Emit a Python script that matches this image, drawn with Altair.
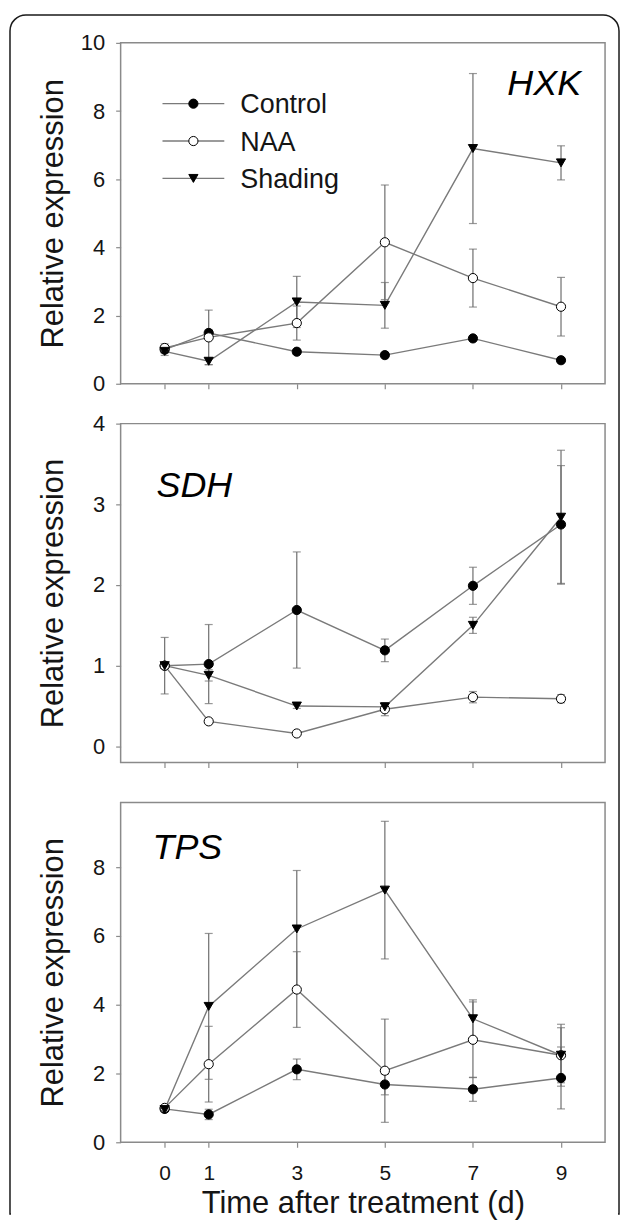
import altair as alt
import pandas as pd

# ---------------- data ----------------
days = [0, 1, 3, 5, 7, 9]
series_names = ["Control", "NAA", "Shading"]

hxk_control = [1.0, 1.49, 0.94, 0.84, 1.33, 0.69]
hxk_control_err = [0.10, 0.10, 0.08, 0.08, 0.08, 0.08]
hxk_naa = [1.05, 1.36, 1.78, 4.15, 3.10, 2.26]
hxk_naa_err = [0.12, 0.80, 0.50, 1.68, 0.85, 0.86]
hxk_shading = [0.95, 0.66, 2.40, 2.30, 6.90, 6.48]
hxk_shading_err = [0.12, 0.10, 0.75, 0.67, 2.20, 0.50]

sdh_control = [1.0, 1.02, 1.69, 1.19, 1.99, 2.75]
sdh_control_err = [0.35, 0.49, 0.72, 0.14, 0.23, 0.73]
sdh_naa = [1.0, 0.31, 0.16, 0.46, 0.61, 0.59]
sdh_naa_err = [0.03, 0.03, 0.03, 0.08, 0.07, 0.05]
sdh_shading = [1.0, 0.88, 0.50, 0.49, 1.50, 2.84]
sdh_shading_err = [0.03, 0.07, 0.03, 0.05, 0.10, 0.83]

tps_control = [0.97, 0.81, 2.12, 1.68, 1.54, 1.87]
tps_control_err = [0.08, 0.15, 0.30, 0.30, 0.35, 0.90]
tps_naa = [1.0, 2.27, 4.44, 2.08, 2.98, 2.53]
tps_naa_err = [0.05, 1.10, 1.10, 1.50, 1.10, 0.90]
tps_shading = [0.95, 3.95, 6.20, 7.33, 3.59, 2.53]
tps_shading_err = [0.05, 2.12, 1.70, 2.00, 0.55, 0.80]

hxk_ticks = [0, 2, 4, 6, 8, 10]
sdh_ticks = [0, 1, 2, 3, 4]
tps_ticks = [0, 2, 4, 6, 8]

# ---------------- style ----------------
FONT = "Liberation Sans"
GRAY_LINE = "#7a7a7a"
GRAY_ERR = "#6e6e6e"
FRAME = "#8a8a8a"
TXT = "#151515"

shape_scale = alt.Scale(domain=series_names, range=["circle", "circle", "triangle-down"])
fill_scale = alt.Scale(domain=series_names, range=["black", "white", "black"])
size_scale = alt.Scale(domain=series_names, range=[85, 85, 120])


def make_df(vals_list, errs_list):
    rows = []
    for s, vals, errs in zip(series_names, vals_list, errs_list):
        for d, v, e in zip(days, vals, errs):
            rows.append({"series": s, "day": d, "value": v, "lo": v - e, "hi": v + e})
    return pd.DataFrame(rows)


def panel(df, ydomain, yticks, height, gene, gx, gy, galign, last, legend=False, border=False):
    xkw = dict(values=days, tickSize=5, tickColor=FRAME, tickWidth=1.2, domain=False, grid=False)
    if last:
        xaxis = alt.Axis(labels=True, labelFont=FONT, labelFontSize=21, labelColor=TXT,
                         labelPadding=32, labelBaseline="alphabetic",
                         title="Time after treatment (d)", titleFont=FONT, titleFontSize=31,
                         titleFontWeight="normal", titleColor=TXT, titleY=70,
                         titleBaseline="alphabetic", **xkw)
    else:
        xaxis = alt.Axis(labels=False, title="", **xkw)
    xscale = alt.Scale(domain=[-1, 10], nice=False, zero=False)
    yaxis = alt.Axis(values=yticks, tickSize=5, tickColor=FRAME, tickWidth=1.2, domain=False,
                     grid=False, format="d", labelFont=FONT, labelFontSize=22, labelColor=TXT,
                     labelPadding=11, title="Relative expression", titleFont=FONT,
                     titleFontSize=31, titleFontWeight="normal", titleColor=TXT,
                     titleX=-58, titleY=height / 2, titleAngle=270, titleAlign="center",
                     titleBaseline="alphabetic")
    yscale = alt.Scale(domain=ydomain, nice=False, zero=False)

    base = alt.Chart(df)
    X = alt.X("day:Q", scale=xscale, axis=xaxis)

    layers = []
    if border:
        frame_df = pd.DataFrame({"a": [0]})
        layers.append(
            alt.Chart(frame_df).mark_rect(
                fillOpacity=0, stroke="#1a1a1a", strokeWidth=1.5,
                cornerRadiusTopLeft=16, cornerRadiusTopRight=16
            ).encode(x=alt.value(-111), x2=alt.value(500), y=alt.value(-28), y2=alt.value(1175))
        )
        layers.append(
            alt.Chart(frame_df).mark_rule(color="white", strokeWidth=3).encode(
                x=alt.value(-110), x2=alt.value(499), y=alt.value(1175))
        )
    rules = base.mark_rule(color=GRAY_ERR, strokeWidth=1.2).encode(
        x=X, y=alt.Y("lo:Q", scale=yscale, axis=yaxis), y2="hi:Q")
    cap_lo = base.mark_tick(orient="horizontal", size=8, thickness=1.2, color=GRAY_ERR).encode(
        x=X, y=alt.Y("lo:Q", scale=yscale, axis=yaxis))
    cap_hi = base.mark_tick(orient="horizontal", size=8, thickness=1.2, color=GRAY_ERR).encode(
        x=X, y=alt.Y("hi:Q", scale=yscale, axis=yaxis))
    lines = base.mark_line(color=GRAY_LINE, strokeWidth=1.4).encode(
        x=X, y=alt.Y("value:Q", scale=yscale, axis=yaxis), detail="series:N")
    pts = base.mark_point(filled=True, opacity=1, stroke="black", strokeWidth=1).encode(
        x=X, y=alt.Y("value:Q", scale=yscale, axis=yaxis),
        shape=alt.Shape("series:N", scale=shape_scale, legend=None),
        fill=alt.Fill("series:N", scale=fill_scale, legend=None),
        size=alt.Size("series:N", scale=size_scale, legend=None),
    )
    layers += [rules, cap_lo, cap_hi, lines, pts]

    glabel = alt.Chart(pd.DataFrame({"g": [gene]})).mark_text(
        font=FONT, fontSize=36, fontStyle="italic", align=galign, baseline="alphabetic", color="black"
    ).encode(x=alt.value(gx), y=alt.value(gy), text="g:N")
    layers.append(glabel)

    if legend:
        row0, step = 61, 37.5
        for i, s in enumerate(series_names):
            ry = row0 + i * step
            one = pd.DataFrame({"series": [s]})
            layers.append(alt.Chart(one).mark_rule(color=GRAY_LINE, strokeWidth=1.4).encode(
                x=alt.value(42), x2=alt.value(104), y=alt.value(ry)))
            layers.append(alt.Chart(one).mark_point(filled=True, opacity=1, stroke="black", strokeWidth=1).encode(
                x=alt.value(73), y=alt.value(ry),
                shape=alt.Shape("series:N", scale=shape_scale, legend=None),
                fill=alt.Fill("series:N", scale=fill_scale, legend=None),
                size=alt.Size("series:N", scale=size_scale, legend=None)))
            layers.append(alt.Chart(one).mark_text(
                font=FONT, fontSize=27, align="left", baseline="alphabetic", color=TXT
            ).encode(x=alt.value(120), y=alt.value(ry + 9.5), text="series:N"))

    return alt.layer(*layers).properties(width=486, height=height)


p1 = panel(make_df([hxk_control, hxk_naa, hxk_shading], [hxk_control_err, hxk_naa_err, hxk_shading_err]),
           [0, 10], hxk_ticks, 342, "HXK", 462, 52, "right", False, legend=True, border=True)
p2 = panel(make_df([sdh_control, sdh_naa, sdh_shading], [sdh_control_err, sdh_naa_err, sdh_shading_err]),
           [-0.2, 4], sdh_ticks, 340, "SDH", 36, 74, "left", False)
p3 = panel(make_df([tps_control, tps_naa, tps_shading], [tps_control_err, tps_naa_err, tps_shading_err]),
           [0, 9.88], tps_ticks, 341, "TPS", 32, 57, "left", True)

chart = alt.vconcat(p1, p2, p3, spacing=40, bounds="flush").properties(
    padding={"left": 0, "top": 3, "right": 0, "bottom": 0}, background="white"
).configure_view(stroke=FRAME, strokeWidth=1.5)

chart.save("out.html", embed_options={"renderer": "svg", "actions": False})
